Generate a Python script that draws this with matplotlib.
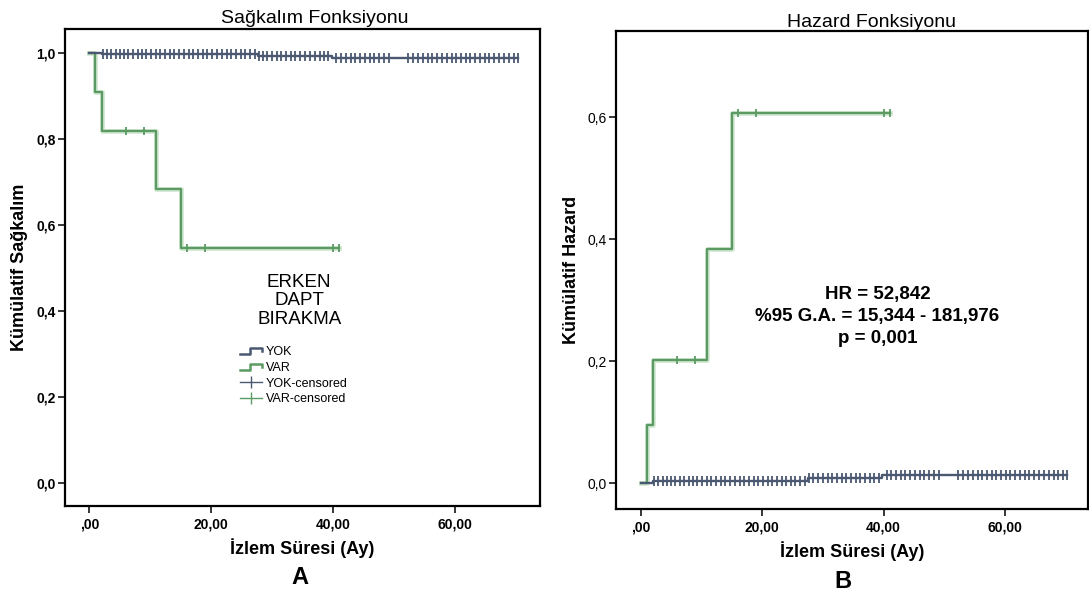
import numpy as np
import matplotlib.pyplot as plt
from matplotlib.lines import Line2D
from matplotlib.legend_handler import HandlerBase
import matplotlib.patheffects as pe

plt.rcParams['font.family'] = ['Liberation Sans', 'DejaVu Sans']

# Kaplan-Meier steps (event times and values after each event)
var_time = [0, 1, 2, 11, 15]
var_surv = [1.0, 0.909, 0.818, 0.682, 0.545]
var_hazard = [0.0, 0.095, 0.201, 0.383, 0.606]
var_censored = [6, 9, 16, 19, 40, 41]
var_end = 41

yok_time = [0, 2, 27.6, 39.8]
yok_surv = [1.0, 0.996, 0.992, 0.987]
yok_hazard = [0.0, 0.004, 0.008, 0.013]
yok_censored = [2.2, 2.9, 3.6, 4.3, 5.0, 5.6, 6.4, 7.1, 7.9, 8.6, 9.3, 10.1,
                 10.9, 11.6, 12.4, 13.2, 13.9, 14.7, 15.5, 16.3, 17.0, 17.8,
                 18.6, 19.3, 20.1, 20.9, 21.7, 22.5, 23.2, 24.0, 24.8, 25.5,
                 26.3, 27.1, 27.8, 28.4, 29.2, 30.0, 30.8, 31.5, 32.3, 33.1,
                 33.8, 34.6, 35.4, 36.2, 37.0, 37.8, 38.5, 39.2, 40.5, 41.3,
                 42.1, 42.9, 43.6, 44.4, 45.2, 46.0, 46.7, 47.5, 48.3, 49.1,
                 52.3, 53.1, 53.9, 54.7, 55.5, 56.2, 57.0, 57.8, 58.6, 59.4,
                 60.1, 60.9, 61.7, 62.5, 63.3, 64.0, 64.8, 65.6, 66.4, 67.2,
                 68.0, 68.8, 69.6, 70.3]
yok_end = 70.3

x_ticks = [0, 20, 40, 60]
x_tick_labels = [',00', '20,00', '40,00', '60,00']
surv_ticks = [0.0, 0.2, 0.4, 0.6, 0.8, 1.0]
surv_tick_labels = ['0,0', '0,2', '0,4', '0,6', '0,8', '1,0']
haz_ticks = [0.0, 0.2, 0.4, 0.6]
haz_tick_labels = ['0,0', '0,2', '0,4', '0,6']

group_names = ['YOK', 'VAR']
hr_lines = ['HR = 52,842', '%95 G.A. = 15,344 - 181,976', 'p = 0,001']
hr_y = [0.309, 0.273, 0.237]
note_lines = ['ERKEN', 'DAPT', 'BIRAKMA']
note_y = [0.465, 0.423, 0.380]

YOK_COLOR = '#4a5871'
VAR_COLOR = '#5b9b63'
glow = [pe.Stroke(linewidth=3.6, foreground='#d6ebd6'), pe.Normal()]


def value_at(times, values, t):
    idx = np.searchsorted(times, t, side='right') - 1
    return np.asarray(values)[idx]


def draw_curve(ax, times, values, end, censored, color, effects=None, ms=6.5):
    ax.step(times + [end], values + [values[-1]], where='post', color=color,
            lw=1.7, path_effects=effects, zorder=2)
    ax.plot(censored, value_at(times, values, censored), ls='none', marker='|',
            ms=ms, mew=1.3, color=color, zorder=3)


class StepHandler(HandlerBase):
    # little "step" glyph used by SPSS for survival lines
    def create_artists(self, legend, orig_handle, xdescent, ydescent,
                       width, height, fontsize, trans):
        xs = np.array([0, 0.45, 0.45, 1.0, 1.0]) * width - xdescent
        ys = np.array([0.15, 0.15, 0.85, 0.85, 0.45]) * height - ydescent
        line = Line2D(xs, ys, color=orig_handle.get_color(), lw=1.8)
        line.set_transform(trans)
        return [line]


def style_axes(ax, xlim, ylim, yticks, ylabels, ybold):
    ax.set_xlim(*xlim)
    ax.set_ylim(*ylim)
    ax.set_xticks(x_ticks)
    ax.set_xticklabels(x_tick_labels, fontsize=10, fontweight='bold')
    ax.set_yticks(yticks)
    ax.set_yticklabels(ylabels, fontsize=10,
                       fontweight='bold' if ybold else 'normal')
    ax.tick_params(axis='x', direction='out', length=5, width=1.1, pad=3)
    ax.tick_params(axis='y', direction='out', length=5, width=1.1, pad=1.5)
    for sp in ax.spines.values():
        sp.set_linewidth(1.6)


fig = plt.figure(figsize=(10.89, 5.94), dpi=100)
ax1 = fig.add_axes([65 / 1089, 1 - 506 / 594, 475 / 1089, 477 / 594])
ax2 = fig.add_axes([616 / 1089, 1 - 509.3 / 594, 471.5 / 1089, 478.3 / 594])

# Survival panel
draw_curve(ax1, var_time, var_surv, var_end, var_censored, VAR_COLOR, glow, ms=6)
draw_curve(ax1, yok_time, yok_surv, yok_end, yok_censored, YOK_COLOR)
style_axes(ax1, (-4.0, 73.9), (-0.054, 1.055), surv_ticks, surv_tick_labels, True)
ax1.set_title('Sağkalım Fonksiyonu', fontsize=14, x=0.525, pad=4)
ax1.set_ylabel('Kümülatif Sağkalım', fontsize=13, fontweight='bold')
ax1.yaxis.set_label_coords(-0.078, 0.5)
ax1.set_xlabel('İzlem Süresi (Ay)', fontsize=13, fontweight='bold')
ax1.xaxis.set_label_coords(0.5, -0.067)
for line, y in zip(note_lines, note_y):
    ax1.text(34.4, y, line, ha='center', va='center', fontsize=13.5)

handles = [Line2D([], [], color=YOK_COLOR), Line2D([], [], color=VAR_COLOR),
           Line2D([], [], color=YOK_COLOR, lw=1, marker='|', ms=9, mew=1),
           Line2D([], [], color=VAR_COLOR, lw=1, marker='|', ms=9, mew=1)]
labels = group_names + [g + '-censored' for g in group_names]
ax1.legend(handles, labels, loc='upper left', bbox_to_anchor=(0.368, 0.335),
           frameon=False, fontsize=9, handlelength=1.8, handletextpad=0.3,
           labelspacing=0.3, borderpad=0, borderaxespad=0,
           handler_map={handles[0]: StepHandler(), handles[1]: StepHandler()})

# Cumulative hazard panel
draw_curve(ax2, var_time, var_hazard, var_end, var_censored, VAR_COLOR, glow, ms=6)
draw_curve(ax2, yok_time, yok_hazard, yok_end, yok_censored, YOK_COLOR)
style_axes(ax2, (-4.06, 73.6), (-0.043, 0.741), haz_ticks, haz_tick_labels, False)
ax2.set_title('Hazard Fonksiyonu', fontsize=14, x=0.542, pad=3)
ax2.set_ylabel('Kümülatif Hazard', fontsize=13, fontweight='bold')
ax2.yaxis.set_label_coords(-0.076, 0.5)
ax2.set_xlabel('İzlem Süresi (Ay)', fontsize=13, fontweight='bold')
ax2.xaxis.set_label_coords(0.5, -0.067)
for line, y in zip(hr_lines, hr_y):
    ax2.text(39.0, y, line, ha='center', va='center', fontsize=13.5,
             fontweight='bold')

fig.text(300 / 1089, 1 - 577 / 594, 'A', ha='center', va='center',
         fontsize=17, fontweight='bold')
fig.text(843 / 1089, 1 - 582 / 594, 'B', ha='center', va='center',
         fontsize=17, fontweight='bold')

fig.savefig('out.png', dpi=100)
